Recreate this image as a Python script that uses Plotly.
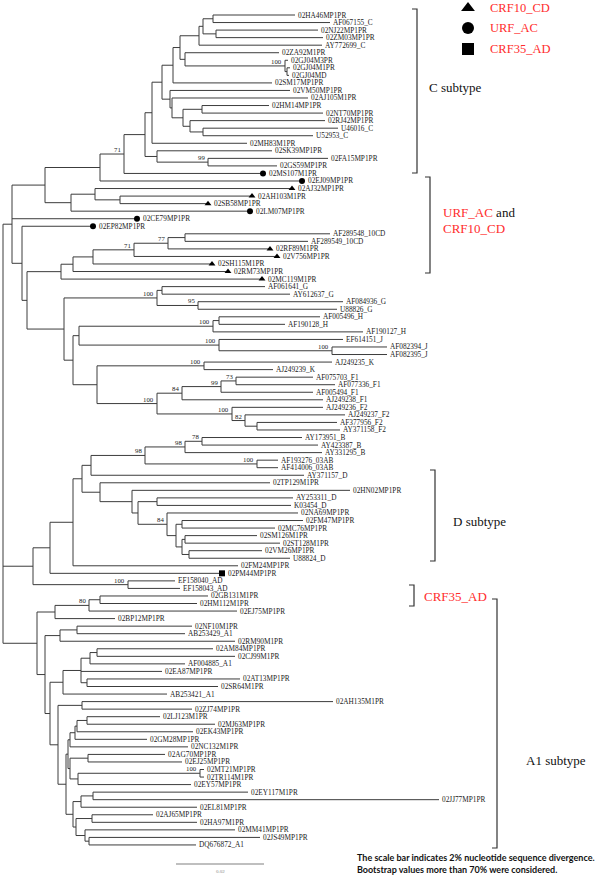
import plotly.graph_objects as go

# ---------------- data ----------------
leaf_names = [
    "02HA46MP1PR", "AF067155_C", "02NJ22MP1PR", "02ZM03MP1PR", "AY772699_C",
    "02ZA92M1PR", "02GJ04M3PR", "02GJ04M1PR", "02GJ04MD", "02SM17MP1PR",
    "02VM50MP1PR", "02AJ105M1PR", "02HM14MP1PR", "02NT70MP1PR", "02RJ42MP1PR",
    "U46016_C", "U52953_C", "02MH83M1PR", "02SK39MP1PR", "02FA15MP1PR",
    "02GS59MP1PR", "02MS107M1PR", "02EJ09MP1PR", "02AJ32MP1PR", "02AH103M1PR",
    "02SB58MP1PR", "02LM07MP1PR", "02CE79MP1PR", "02EP82MP1PR", "AF289548_10CD",
    "AF289549_10CD", "02RF89M1PR", "02V756MP1PR", "02SH115M1PR", "02RM73MP1PR",
    "02MC119M1PR", "AF061641_G", "AY612637_G", "AF084936_G", "U88826_G",
    "AF005496_H", "AF190128_H", "AF190127_H", "EF614151_J", "AF082394_J",
    "AF082395_J", "AJ249235_K", "AJ249239_K", "AF075703_F1", "AF077336_F1",
    "AF005494_F1", "AJ249238_F1", "AJ249236_F2", "AJ249237_F2", "AF377956_F2",
    "AY371158_F2", "AY173951_B", "AY423387_B", "AY331295_B", "AF193276_03AB",
    "AF414006_03AB", "AY371157_D", "02TP129M1PR", "02HN02MP1PR", "AY253311_D",
    "K03454_D", "02NA69MP1PR", "02FM47MP1PR", "02MC76MP1PR", "02SM126M1PR",
    "02ST128M1PR", "02VM26MP1PR", "U88824_D", "02FM24MP1PR", "02PM44MP1PR",
    "EF158040_AD", "EF158043_AD", "02GB131M1PR", "02HM112M1PR", "02EJ75MP1PR",
    "02BP12MP1PR", "02NF10M1PR", "AB253429_A1", "02RM90M1PR", "02AM84MP1PR",
    "02CJ99M1PR", "AF004885_A1", "02EA87MP1PR", "02AT13MP1PR", "02SR64M1PR",
    "AB253421_A1", "02AH135M1PR", "02ZJ74MP1PR", "02LJ123M1PR", "02MJ63MP1PR",
    "02EK43MP1PR", "02GM28MP1PR", "02NC132M1PR", "02AG70MP1PR", "02EJ25MP1PR",
    "02MT21MP1PR", "02TR114M1PR", "02EY57MP1PR", "02EY117M1PR", "02JJ77MP1PR",
    "02EL81MP1PR", "02AJ65MP1PR", "02HA97M1PR", "02MM41MP1PR", "02JS49MP1PR",
    "DQ676872_A1",
]

# tip depth (tree units; scale bar of 88 units = 0.02 divergence)
leaf_depth = [
    295, 330, 318, 323, 322, 279, 288, 290, 289, 272,
    290, 308, 269, 323, 325, 338, 313, 247, 272, 328,
    277, 263, 302, 292, 252, 208, 250, 137, 93, 330,
    308, 270, 277, 212, 228, 262, 265, 290, 343, 337,
    320, 285, 363, 343, 387, 387, 332, 273, 313, 335,
    313, 323, 323, 345, 337, 340, 302, 318, 322, 278,
    278, 304, 270, 350, 293, 291, 298, 303, 275, 257,
    280, 262, 290, 238, 222, 175, 180, 208, 197, 237,
    115, 192, 185, 235, 213, 235, 185, 162, 240, 218,
    167, 333, 192, 160, 215, 193, 147, 188, 165, 182,
    204, 204, 191, 248, 439, 197, 153, 197, 235, 260,
    196,
]

leaf_group = {
    "02MS107M1PR": "URF_AC", "02EJ09MP1PR": "URF_AC", "02LM07MP1PR": "URF_AC",
    "02CE79MP1PR": "URF_AC", "02EP82MP1PR": "URF_AC",
    "02AJ32MP1PR": "CRF10_CD", "02AH103M1PR": "CRF10_CD", "02SB58MP1PR": "CRF10_CD",
    "02RF89M1PR": "CRF10_CD", "02V756MP1PR": "CRF10_CD", "02SH115M1PR": "CRF10_CD",
    "02RM73MP1PR": "CRF10_CD", "02MC119M1PR": "CRF10_CD",
    "02PM44MP1PR": "CRF35_AD",
}
group_names = ["CRF10_CD", "URF_AC", "CRF35_AD"]
group_symbols = ["triangle-up", "circle", "square"]

# internal clades: first leaf, last leaf (1-based order), node depth, bootstrap
clade_first = [1, 3, 1, 1, 8, 7, 6, 1, 1, 13, 16, 15, 13, 12, 11, 1, 1, 20, 19, 1,
               1, 1, 25, 24, 24, 1, 30, 30, 30, 30, 30, 30, 37, 39, 37, 41, 41, 45, 44, 41,
               47, 49, 49, 49, 55, 54, 53, 49, 47, 41, 37, 30, 29, 1, 57, 57, 60, 57, 57, 65,
               68, 70, 72, 70, 68, 67, 65, 64, 63, 57, 57, 57, 76, 57, 78, 78, 78, 82, 82, 85,
               85, 89, 85, 85, 92, 94, 94, 94, 94, 99, 101, 101, 99, 94, 104, 104, 107, 110, 109, 107,
               104, 94, 92, 85, 82, 78, 1]
clade_last = [2, 4, 4, 5, 9, 9, 9, 9, 10, 14, 17, 17, 17, 17, 17, 17, 18, 21, 21, 21,
              22, 23, 26, 26, 27, 27, 31, 32, 33, 34, 35, 36, 38, 40, 40, 42, 43, 46, 46, 46,
              48, 50, 51, 52, 56, 56, 56, 56, 56, 56, 56, 56, 56, 56, 58, 59, 61, 61, 62, 66,
              69, 71, 73, 73, 73, 73, 73, 73, 73, 73, 74, 75, 77, 77, 79, 80, 81, 83, 84, 86,
              87, 90, 90, 91, 93, 95, 96, 97, 98, 100, 102, 103, 103, 103, 105, 106, 108, 111, 111, 111,
              111, 111, 111, 111, 111, 111, 111]
clade_depth = [213, 216, 203, 199, 287, 285, 185, 180, 173, 202, 203, 190, 183, 172, 170, 162, 152, 208, 157, 145,
               124, 100, 120, 95, 71, 45, 185, 168, 134, 93, 73, 61, 162, 198, 157, 219, 213, 332, 219, 79,
               204, 236, 221, 182, 257, 245, 232, 157, 97, 73, 64, 27, 22, 12, 202, 185, 257, 145, 91, 157,
               182, 185, 189, 182, 176, 167, 138, 132, 100, 82, 73, 50, 128, 33, 100, 89, 55, 77, 60, 97,
               90, 87, 81, 63, 82, 87, 77, 75, 70, 88, 200, 78, 70, 68, 93, 81, 92, 89, 85, 76,
               73, 66, 58, 50, 45, 37, 3]
clade_support = [None, None, None, None, None, 100, None, None, None, None, None, None, None, None, None, None, None, 99, None, None,
                 71, None, None, None, None, None, None, 77, 71, None, None, None, None, 95, 100, None, 100, 100, 100, None,
                 100, 73, 99, 84, None, 82, 100, 100, None, None, None, None, None, None, 78, 98, 100, 98, None, None,
                 None, None, None, None, None, 84, None, None, None, None, None, None, 100, None, None, 80, None, None, None, None,
                 None, None, None, None, None, None, None, None, None, None, 100, None, None, None, None, None, None, None, None, None,
                 None, None, None, None, None, None, None]

scale_bar_value = "0.02"

# ---------------- layout of the tree ----------------
n_leaf = len(leaf_names)
leaf_y = [i + 1 for i in range(n_leaf)]
clades = list(range(len(clade_first)))


def span(c):
    return clade_last[c] - clade_first[c]


parent = {}
for c in clades:
    best = None
    for d in clades:
        if d == c:
            continue
        if clade_first[d] <= clade_first[c] and clade_last[c] <= clade_last[d] and span(d) > span(c):
            if best is None or span(d) < span(best):
                best = d
    parent[c] = best

children = {c: [] for c in clades}
for c in clades:
    if parent[c] is not None:
        children[parent[c]].append(("c", c))
for i in range(n_leaf):
    best = None
    for d in clades:
        if clade_first[d] <= i + 1 <= clade_last[d]:
            if best is None or span(d) < span(best):
                best = d
    children[best].append(("l", i))

clade_y = {}
for c in sorted(clades, key=span):
    ys = [leaf_y[k] if t == "l" else clade_y[k] for t, k in children[c]]
    clade_y[c] = (min(ys) + max(ys)) / 2

lx, ly = [], []
for c in clades:
    xc = clade_depth[c]
    ys = []
    for t, k in children[c]:
        yk = leaf_y[k] if t == "l" else clade_y[k]
        xk = leaf_depth[k] if t == "l" else clade_depth[k]
        ys.append(yk)
        lx += [xc, xk, None]
        ly += [yk, yk, None]
    lx += [xc, xc, None]
    ly += [min(ys), max(ys), None]

fig = go.Figure()
fig.add_trace(go.Scatter(x=lx, y=ly, mode="lines", line=dict(color="#3c3c3c", width=1),
                         hoverinfo="skip", showlegend=False))

for g, sym in zip(group_names, group_symbols):
    idx = [i for i, n in enumerate(leaf_names) if leaf_group.get(n) == g]
    fig.add_trace(go.Scatter(x=[leaf_depth[i] for i in idx], y=[leaf_y[i] for i in idx],
                             mode="markers", marker=dict(symbol=sym, size=6, color="black"),
                             showlegend=False, hoverinfo="skip"))

annotations = []
for i, n in enumerate(leaf_names):
    annotations.append(dict(x=leaf_depth[i], y=leaf_y[i], xref="x", yref="y", text=n,
                            showarrow=False, xanchor="left", yanchor="middle",
                            xshift=4 if n in leaf_group else 1,
                            font=dict(family="Liberation Serif", size=7.3, color="#222")))
for c in clades:
    if clade_support[c] is not None:
        annotations.append(dict(x=clade_depth[c], y=clade_y[c], xref="x", yref="y",
                                text=str(clade_support[c]), showarrow=False,
                                xanchor="right", yanchor="bottom", xshift=-1, yshift=-1,
                                font=dict(family="Liberation Serif", size=6.8, color="#222")))

H = 875.0


def P(ypix):
    return 1 - ypix / H


RED = "#ff2d2d"
shapes = []
brackets = [(417, 9, 173), (430, 177, 273), (435, 470, 561), (414, 585, 606), (497, 599, 848)]
for bx, y0, y1 in brackets:
    shapes.append(dict(type="path", xref="x", yref="paper",
                       path=f"M {bx-5} {P(y0)} L {bx} {P(y0)} L {bx} {P(y1)} L {bx-5} {P(y1)}",
                       line=dict(color="#333", width=1.2)))

# scale bar
shapes.append(dict(type="line", xref="x", yref="paper", x0=176, x1=264, y0=P(864), y1=P(864),
                   line=dict(color="#aaa", width=1.5)))
annotations.append(dict(x=220, y=P(871), xref="x", yref="paper", text=scale_bar_value,
                        showarrow=False, yanchor="middle",
                        font=dict(family="Liberation Serif", size=5, color="#888")))

bf = dict(family="Liberation Serif", size=13, color="#111")
redf = dict(family="Liberation Serif", size=13, color=RED)
annotations += [
    dict(x=427, y=P(88), xref="x", yref="paper", text="C subtype", showarrow=False,
         xanchor="left", yanchor="middle", font=bf),
    dict(x=441, y=P(212), xref="x", yref="paper",
         text=f"<span style='color:{RED}'>URF_AC</span> and",
         showarrow=False, xanchor="left", yanchor="middle", font=bf),
    dict(x=441, y=P(228), xref="x", yref="paper", text="CRF10_CD",
         showarrow=False, xanchor="left", yanchor="middle", font=redf),
    dict(x=451, y=P(521), xref="x", yref="paper", text="D subtype", showarrow=False,
         xanchor="left", yanchor="middle", font=bf),
    dict(x=422, y=P(596), xref="x", yref="paper", text="CRF35_AD", showarrow=False,
         xanchor="left", yanchor="middle", font=redf),
    dict(x=524, y=P(760), xref="x", yref="paper", text="A1 subtype", showarrow=False,
         xanchor="left", yanchor="middle", font=bf),
    dict(x=355, y=P(857), xref="x", yref="paper",
         text="<b>The scale bar indicates 2% nucleotide sequence divergence.</b>",
         showarrow=False, xanchor="left", yanchor="middle",
         font=dict(family="Lato", size=9, color="#111")),
    dict(x=355, y=P(869), xref="x", yref="paper",
         text="<b>Bootstrap values more than 70% were considered.</b>",
         showarrow=False, xanchor="left", yanchor="middle",
         font=dict(family="Lato", size=9, color="#111")),
]

# legend (top right)
leg_y = [8, 28, 49]
for g, sym, yy in zip(group_names, group_symbols, leg_y):
    fig.add_trace(go.Scatter(x=[468], y=[1 + (yy - 15) / 7.545], mode="markers",
                             marker=dict(symbol=sym, size=12, color="black"),
                             showlegend=False, hoverinfo="skip"))
    annotations.append(dict(x=488, y=P(yy), xref="x", yref="paper", text=g, showarrow=False,
                            xanchor="left", yanchor="middle",
                            font=dict(family="Liberation Serif", size=12.5, color=RED)))

fig.update_layout(
    width=600, height=875, margin=dict(l=0, r=0, t=0, b=0),
    paper_bgcolor="white", plot_bgcolor="white",
    xaxis=dict(range=[0, 600], visible=False, fixedrange=True),
    yaxis=dict(range=[1 + (875 - 15) / 7.545, 1 - 15 / 7.545], visible=False, fixedrange=True),
    annotations=annotations, shapes=shapes, showlegend=False,
)
fig.write_html("out.html", config={"displayModeBar": False},
               post_script="document.body.style.margin='0px';")
